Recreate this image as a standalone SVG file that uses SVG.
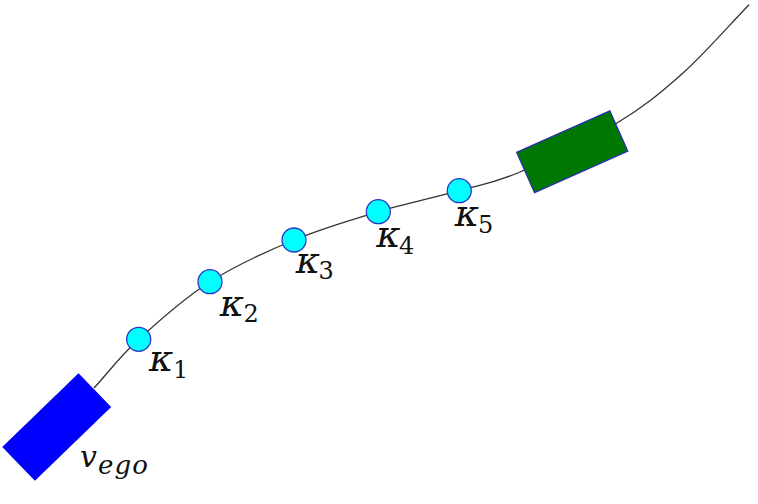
<svg xmlns="http://www.w3.org/2000/svg" width="758" height="504" viewBox="0 0 758 504">
<style>
.path{fill:none;stroke:#333;stroke-width:1.3}
.pt{fill:#00ffff;stroke:#2a35c8;stroke-width:1.3}
.lbl{font-family:"DejaVu Serif","Liberation Serif",serif;font-style:italic;font-size:37px;fill:#111}
.v{font-size:30px}
.sub{font-style:normal;font-size:24px}
.subi{font-style:italic;font-size:26px}
</style>
<rect width="758" height="504" fill="#ffffff"/>
<g id="connectors">
<path class="path" d="M94,388 C108.9,371.8 119.4,357 138.7,339.3 C158,321.6 184.1,298.3 210,281.7 C235.9,265.2 266,251.7 294,240 C322.1,228.3 350.8,219.9 378.3,211.7 C405.9,203.5 435.7,197.3 459.3,190.7 C482.9,184.1 493.7,183.3 520,172 C546.3,160.7 589.8,139.5 617,123 C644.2,106.5 661,92.7 683,73 C705,53.3 727,27.5 749,4.7"/>
</g>
<g id="ego">
<rect x="-52.5" y="-23" width="105" height="46" fill="#0000ff" stroke="#0000ee" stroke-width="1" transform="translate(56.7,427) rotate(-44)"/>
<text class="lbl v" x="80" y="467">v<tspan class="subi" x="98" y="474" textLength="50" lengthAdjust="spacing">ego</tspan></text>
</g>
<g id="target">
<rect x="-51" y="-22" width="102" height="44" fill="#007700" stroke="#2233aa" stroke-width="1.3" transform="translate(572.2,151.7) rotate(-24)"/>
</g>
<g id="k1">
<circle class="pt" cx="138.7" cy="339.3" r="12"/>
<text class="lbl" x="149" y="371">κ<tspan class="sub" x="173" y="378">1</tspan></text>
</g>
<g id="k2">
<circle class="pt" cx="210" cy="281.7" r="12"/>
<text class="lbl" x="219.7" y="316">κ<tspan class="sub" x="243.5" y="322">2</tspan></text>
</g>
<g id="k3">
<circle class="pt" cx="294" cy="240" r="12"/>
<text class="lbl" x="295.7" y="273">κ<tspan class="sub" x="318.5" y="279">3</tspan></text>
</g>
<g id="k4">
<circle class="pt" cx="378.3" cy="211.7" r="12"/>
<text class="lbl" x="376.3" y="247">κ<tspan class="sub" x="399" y="254">4</tspan></text>
</g>
<g id="k5">
<circle class="pt" cx="459.3" cy="190.7" r="12"/>
<text class="lbl" x="454.7" y="226">κ<tspan class="sub" x="478" y="233">5</tspan></text>
</g>
</svg>
